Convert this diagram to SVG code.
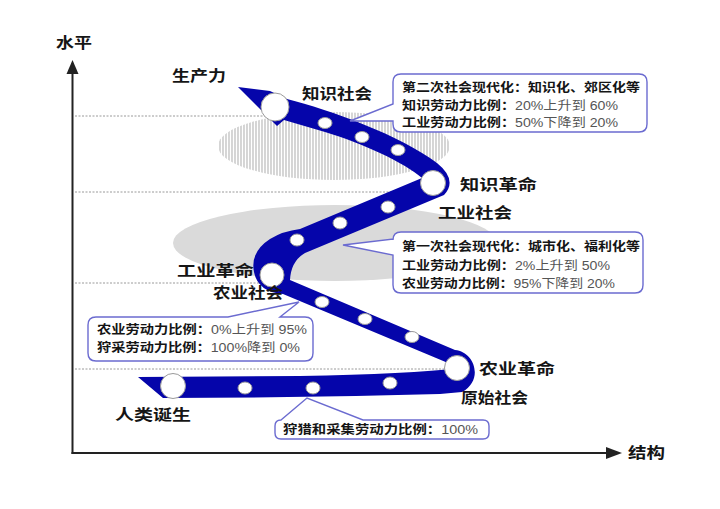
<svg xmlns="http://www.w3.org/2000/svg" width="720" height="509" viewBox="0 0 720 509">
<style>
.lbl{font-family:"Liberation Sans","Noto Sans CJK SC",sans-serif;font-weight:bold;font-size:15px;fill:#151515}
.ct{font-family:"Liberation Sans","Noto Sans CJK SC",sans-serif;font-weight:bold;font-size:12px;fill:#151515}
.cv{font-weight:normal;fill:#555}
.co{fill:#fff;stroke:#6b6bd0;stroke-width:1.4}
.dot{fill:#fff;stroke:#9a9a9a;stroke-width:1}
.grid{stroke:#9a9a9a;stroke-width:1;stroke-dasharray:2 1.5;fill:none}
.axis{stroke:#222;stroke-width:2;fill:none}
</style>
<defs>
<pattern id="vhatch" width="3" height="4" patternUnits="userSpaceOnUse">
<rect width="3" height="4" fill="#fff"/>
<line x1="1" y1="0" x2="1" y2="4" stroke="#b4b4b4" stroke-width="1.1"/>
</pattern>
</defs>
<rect width="720" height="509" fill="#fff"/>
<g id="grid">
<line class="grid" x1="75" y1="116" x2="440" y2="116"/>
<line class="grid" x1="75" y1="192" x2="430" y2="192"/>
<line class="grid" x1="75" y1="283" x2="265" y2="283"/>
<line class="grid" x1="75" y1="369" x2="450" y2="369"/>
</g>
<g id="eras">
<ellipse cx="334" cy="146" rx="116" ry="34" fill="url(#vhatch)"/>
<ellipse cx="335" cy="243" rx="162" ry="38" fill="#dadada"/>
</g>
<g id="axes">
<line class="axis" x1="72.5" y1="454" x2="72.5" y2="72"/>
<polygon points="72.5,60 66.5,74 78.5,74" fill="#222"/>
<line class="axis" x1="71.5" y1="453" x2="608" y2="453"/>
<polygon points="622,453 606,447 606,459" fill="#222"/>
<text class="lbl" x="56" y="48" textLength="36" lengthAdjust="spacingAndGlyphs">水平</text>
<text class="lbl" x="628" y="458" textLength="37" lengthAdjust="spacingAndGlyphs">结构</text>
</g>
<g id="connectors">
<path id="spiral" fill="#0505aa" d="M138,377 L300,376 Q410,374 460,368 L283,294 Q258,292 254,272 Q250,252 270,239 Q283,231 300,229 L422,178 C405,163 362,143 325,132 L284,120 L277,126 L238,87 L270,91 L287,99 C330,110 400,135 437,163 Q458,180 444,195 L305,253 Q291,261 290,280 L455,350 C475,352 484,380 462,392 L440,394 Q300,398 163,398 Z"/>
</g>
<g id="stages">
<g id="n-birth"><circle class="dot" cx="173" cy="386" r="12.5"/><text class="lbl" x="115" y="420" textLength="76" lengthAdjust="spacingAndGlyphs">人类诞生</text></g>
<ellipse class="dot" cx="245" cy="388" rx="7" ry="6"/>
<ellipse class="dot" cx="313" cy="388" rx="7" ry="6"/>
<ellipse class="dot" cx="390" cy="383" rx="7" ry="6"/>
<g id="n-agri"><circle class="dot" cx="457" cy="368" r="12.5"/><text class="lbl" x="479" y="374" textLength="76" lengthAdjust="spacingAndGlyphs">农业革命</text><text class="lbl" x="461" y="403" font-size="14" textLength="67" lengthAdjust="spacingAndGlyphs">原始社会</text></g>
<ellipse class="dot" cx="322" cy="302" rx="7" ry="5.5"/>
<ellipse class="dot" cx="365" cy="319" rx="7" ry="5.5"/>
<ellipse class="dot" cx="412" cy="337" rx="7" ry="5.5"/>
<g id="n-ind"><circle class="dot" cx="272" cy="275" r="12"/><text class="lbl" x="177" y="276" textLength="77" lengthAdjust="spacingAndGlyphs">工业革命</text><text class="lbl" x="213" y="298" textLength="70" lengthAdjust="spacingAndGlyphs">农业社会</text></g>
<ellipse class="dot" cx="297" cy="240" rx="7" ry="6"/>
<ellipse class="dot" cx="340" cy="223" rx="7" ry="6"/>
<ellipse class="dot" cx="388" cy="207" rx="7" ry="6"/>
<g id="n-know"><circle class="dot" cx="433" cy="183" r="12.5"/><text class="lbl" x="460" y="190" textLength="77" lengthAdjust="spacingAndGlyphs">知识革命</text><text class="lbl" x="438" y="218" textLength="74" lengthAdjust="spacingAndGlyphs">工业社会</text></g>
<ellipse class="dot" cx="325" cy="123" rx="7" ry="5.5"/>
<ellipse class="dot" cx="362" cy="137" rx="7" ry="5.5"/>
<ellipse class="dot" cx="398" cy="150" rx="7" ry="5.5"/>
<g id="n-ks"><circle class="dot" cx="275" cy="107" r="14"/><text class="lbl" x="302" y="99" textLength="70" lengthAdjust="spacingAndGlyphs">知识社会</text></g>
<g id="n-prod"><text class="lbl" x="172" y="81" textLength="54" lengthAdjust="spacingAndGlyphs">生产力</text></g>
</g>
<g id="callouts">
<g id="c-second">
<path class="co" d="M401,74 H639 Q647,74 647,82 V124 Q647,132 639,132 H401 Q393,132 393,124 V121 L350,121 L393,104 V82 Q393,74 401,74 Z"/>
<text class="ct" x="402" y="92" textLength="238" lengthAdjust="spacingAndGlyphs">第二次社会现代化：知识化、郊区化等</text>
<text class="ct" x="402" y="110" textLength="216" lengthAdjust="spacingAndGlyphs">知识劳动力比例：<tspan class="cv">20%上升到 60%</tspan></text>
<text class="ct" x="402" y="127" textLength="216" lengthAdjust="spacingAndGlyphs">工业劳动力比例：<tspan class="cv">50%下降到 20%</tspan></text>
</g>
<g id="c-first">
<path class="co" d="M401,232 H635 Q643,232 643,240 V285 Q643,293 635,293 H401 Q393,293 393,285 V255 L343,245 L393,239 V240 Q393,232 401,232 Z"/>
<text class="ct" x="402" y="251" textLength="238" lengthAdjust="spacingAndGlyphs">第一次社会现代化：城市化、福利化等</text>
<text class="ct" x="402" y="270" textLength="208" lengthAdjust="spacingAndGlyphs">工业劳动力比例：<tspan class="cv">2%上升到 50%</tspan></text>
<text class="ct" x="402" y="288" textLength="213" lengthAdjust="spacingAndGlyphs">农业劳动力比例：<tspan class="cv">95%下降到 20%</tspan></text>
</g>
<g id="c-agri">
<path class="co" d="M96,317 H228 L299,302 L280,317 H305 Q313,317 313,325 V353 Q313,361 305,361 H96 Q88,361 88,353 V325 Q88,317 96,317 Z"/>
<text class="ct" x="97" y="334" textLength="210" lengthAdjust="spacingAndGlyphs">农业劳动力比例：<tspan class="cv">0%上升到 95%</tspan></text>
<text class="ct" x="97" y="352" textLength="203" lengthAdjust="spacingAndGlyphs">狩采劳动力比例：<tspan class="cv">100%降到 0%</tspan></text>
</g>
<g id="c-hunt">
<path class="co" d="M281,420 L307,398 L363,420 H483 Q489,420 489,426 V433 Q489,439 483,439 H281 Q275,439 275,433 V426 Q275,420 281,420 Z"/>
<text class="ct" x="283" y="434" textLength="195" lengthAdjust="spacingAndGlyphs">狩猎和采集劳动力比例：<tspan class="cv">100%</tspan></text>
</g>
</g>
</svg>
